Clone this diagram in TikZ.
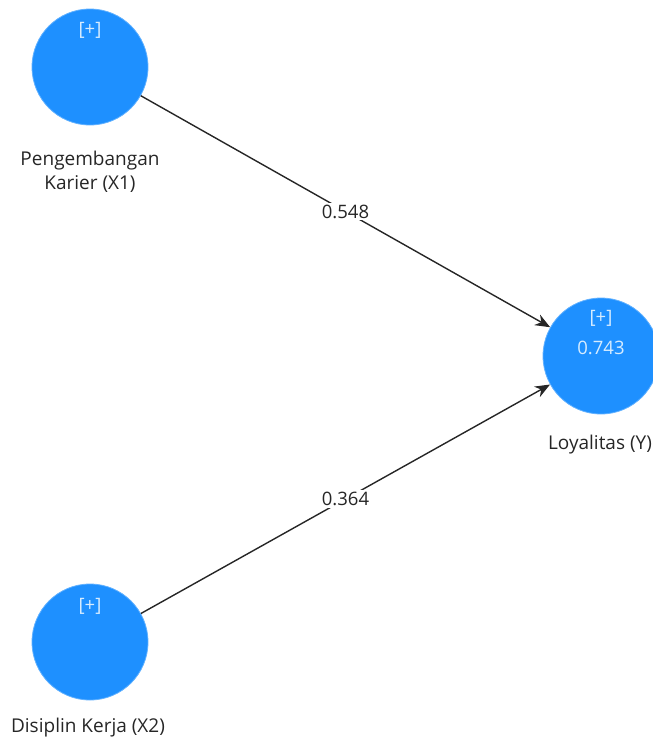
\documentclass[tikz,border=0pt]{standalone}
\usepackage{fontspec}
\setmainfont{Open Sans}
\usetikzlibrary{arrows.meta}
\definecolor{lvfill}{RGB}{30,144,255}
\definecolor{lvtext}{RGB}{214,236,255}
\tikzset{
  latent/.style={circle, fill=lvfill, draw=lvfill!70!white, line width=0.8pt, minimum size=116pt, inner sep=0pt},
  inner/.style={text=lvtext, font=\fontsize{18.5}{22}\selectfont},
  caption/.style={font=\fontsize{19}{24}\selectfont, align=center, text=black!85},
  path/.style={line width=1.4pt, black!85, -{Stealth[length=15pt,width=12pt]}},
  coef/.style={fill=white, inner sep=2pt, font=\fontsize{18.5}{22}\selectfont, text=black!85}
}
\begin{document}
\begin{tikzpicture}[x=1pt,y=-1pt]
\useasboundingbox (0,0) rectangle (653,744);
% latent variables
\node[latent] (x1) at (90,67) {};
\node[latent] (y)  at (601,356) {};
\node[latent] (x2) at (90,642) {};
% badges inside circles
\node[inner] (x1p) at (90,30) {[+]};
\node[inner] (yp) at (601,318) {[+]};
\node[inner] (yr) at (601,348) {0.743};
\node[inner] (x2p) at (90,606) {[+]};
% captions
\node[caption] (x1l) at (90,172) {Pengembangan\\Karier (X1)};
\node[caption] (yl) at (600,445) {Loyalitas (Y)};
\node[caption] (x2l) at (88,728) {Disiplin Kerja (X2)};
% structural paths
\draw[path] (x1) -- node[coef] (c1) {0.548} (y);
\draw[path] (x2) -- node[coef] (c2) {0.364} (y);
\end{tikzpicture}
\end{document}
